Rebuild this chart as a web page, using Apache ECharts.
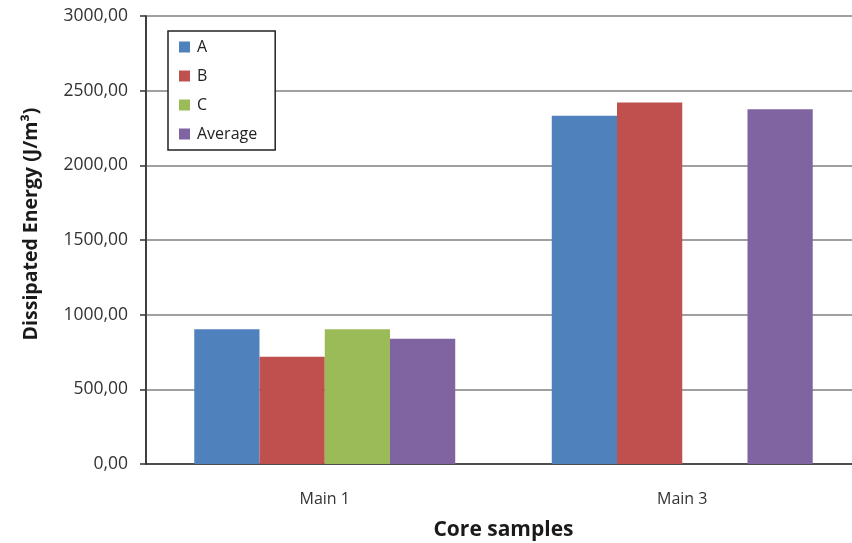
<!DOCTYPE html>
<html>
<head>
<meta charset="utf-8">
<script src="https://cdn.jsdelivr.net/npm/echarts@6/dist/echarts.min.js"></script>
<style>
html, body { margin: 0; padding: 0; background: #fff; overflow: hidden; }
#chart { width: 862px; height: 543px; }
</style>
</head>
<body>
<div id="chart"></div>
<script>
var categories = ['Main 1', 'Main 3'];
var seriesNames = ['A', 'B', 'C', 'Average'];
var valuesA = [903, 2332];
var valuesB = [718, 2420];
var valuesC = [903, null];
var valuesAvg = [838, 2376];
var colors = ['#4F81BD', '#C0504D', '#9BBB59', '#8064A2'];

var font = '"Open Sans", "Liberation Sans", sans-serif';
var allValues = [valuesA, valuesB, valuesC, valuesAvg];

var series = [];
for (var i = 0; i < seriesNames.length; i++) {
	series.push({
		name: seriesNames[i],
		type: 'bar',
		data: allValues[i],
		barGap: '0%',
		barCategoryGap: '27%',
		itemStyle: { color: colors[i] }
	});
}

var myChart = echarts.init(document.getElementById('chart'));
var option = {
	animation: false,
	textStyle: { fontFamily: font },
	grid: {
		left: 146, right: 1, top: 16, bottom: 79,
		outerBoundsMode: 'none',
		containLabel: false,
		show: true, borderColor: '#333', borderWidth: 1.5
	},
	legend: {
		orient: 'vertical',
		left: 168, top: 31,
		padding: [8, 18, 8, 11],
		itemGap: 13,
		itemWidth: 11, itemHeight: 11,
		icon: 'rect',
		borderColor: '#222', borderWidth: 1.5, backgroundColor: '#fff',
		textStyle: { fontSize: 16, color: '#222', fontFamily: font, padding: [0, 0, 0, 2] },
		data: seriesNames
	},
	xAxis: {
		type: 'category',
		data: categories,
		name: 'Core samples',
		nameLocation: 'middle',
		nameGap: 56,
		nameTextStyle: { fontSize: 21, fontWeight: 'bold', color: '#1a1a1a', fontFamily: font },
		axisLine: { lineStyle: { color: '#333', width: 1.5 } },
		axisTick: { show: false },
		axisLabel: { fontSize: 16, color: '#333', margin: 27 }
	},
	yAxis: {
		type: 'value',
		min: 0, max: 3000, interval: 500,
		name: 'Dissipated Energy (J/m\u00b3)',
		nameLocation: 'middle',
		nameGap: 105,
		nameTextStyle: {
			fontSize: 19.5, fontWeight: 'bold', color: '#1a1a1a', fontFamily: font,
			padding: [0, 0, 0, 32]
		},
		axisLine: { show: true, lineStyle: { color: '#333', width: 1.5 } },
		axisTick: { show: true, length: 6, lineStyle: { color: '#333', width: 1.5 } },
		splitLine: { lineStyle: { color: '#a0a0a0', width: 2 } },
		axisLabel: {
			fontSize: 17.5, color: '#333', margin: 18,
			formatter: function (v) { return v.toFixed(2).replace('.', ','); }
		}
	},
	series: series
};
myChart.setOption(option, true);
</script>
</body>
</html>
